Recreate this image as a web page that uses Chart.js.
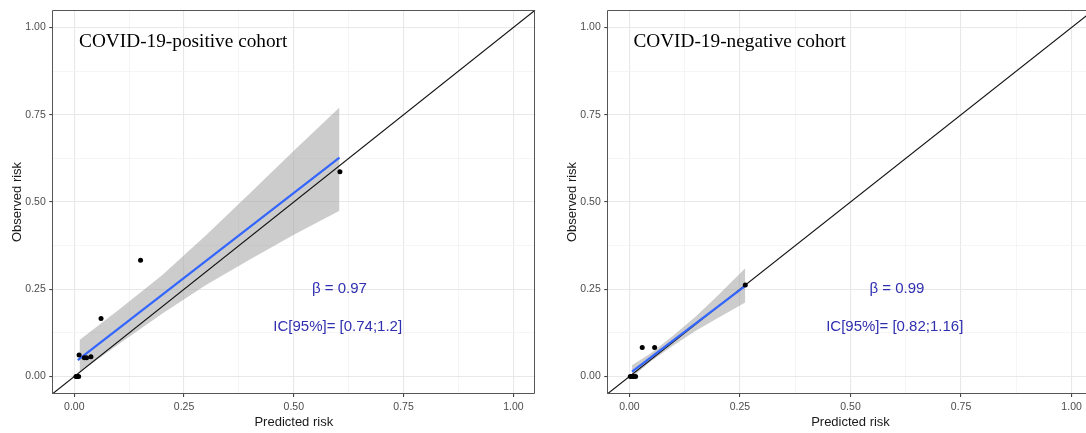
<!DOCTYPE html>
<html>
<head>
<meta charset="utf-8">
<script src="https://cdn.jsdelivr.net/npm/chart.js@4.4.1/dist/chart.umd.min.js"></script>
<style>
  html, body { margin: 0; padding: 0; background: #fff; overflow: hidden; }
  #wrap { position: relative; width: 1086px; height: 433px; overflow: hidden; }
  #left { position: absolute; left: 0; top: 0; }
  #right { position: absolute; left: 545px; top: 0; }
</style>
</head>
<body>
<div id="wrap">
  <canvas id="left" width="545" height="433"></canvas>
  <canvas id="right" width="560" height="433"></canvas>
</div>
<script>
// ticks shared by both panels
const tickValues = [0, 0.25, 0.5, 0.75, 1];
const diagonal = [-0.05, 1.05];

// COVID-19-positive cohort
const posPredicted = [0.004, 0.007, 0.010, 0.011, 0.023, 0.028, 0.038, 0.061, 0.151, 0.605];
const posObserved  = [0, 0, 0, 0.062, 0.054, 0.054, 0.057, 0.166, 0.333, 0.587];
const posFitX = [0.008, 0.604];
const posFitY = [0.047, 0.627];
const posBandX    = [0.012, 0.1, 0.2, 0.3, 0.4, 0.5, 0.604];
const posBandLow  = [0.012, 0.092, 0.180, 0.262, 0.335, 0.406, 0.475];
const posBandHigh = [0.105, 0.190, 0.290, 0.405, 0.525, 0.647, 0.771];

// COVID-19-negative cohort
const negPredicted = [0.002, 0.006, 0.010, 0.014, 0.029, 0.057, 0.262];
const negObserved  = [0, 0, 0, 0, 0.083, 0.083, 0.262];
const negFitX = [0.006, 0.262];
const negFitY = [0.014, 0.260];
const negBandX    = [0.006, 0.05, 0.1, 0.15, 0.2, 0.262];
const negBandLow  = [-0.002, 0.045, 0.090, 0.131, 0.168, 0.212];
const negBandHigh = [0.032, 0.068, 0.118, 0.172, 0.232, 0.310];

function pts(xs, ys) {
  return xs.map((x, i) => ({ x: x, y: ys[i] }));
}

function isMajor(v) {
  return tickValues.some(t => Math.abs(t - v) < 1e-9);
}

const panelDecor = {
  id: 'panelDecor',
  afterDraw(chart, args, o) {
    const c = chart.ctx, a = chart.chartArea;
    const sx = chart.scales.x, sy = chart.scales.y;
    c.save();
    // panel border (left, top, bottom always; right only when it's inside the picture)
    c.strokeStyle = '#555';
    c.lineWidth = 1;
    c.beginPath();
    c.moveTo(Math.round(a.right) - 0.5, Math.round(a.top) + 0.5);
    c.lineTo(Math.round(a.left) + 0.5, Math.round(a.top) + 0.5);
    c.lineTo(Math.round(a.left) + 0.5, Math.round(a.bottom) - 0.5);
    c.lineTo(Math.round(a.right) - 0.5, Math.round(a.bottom) - 0.5);
    if (o.rightBorder) c.closePath();
    c.stroke();

    c.fillStyle = '#000';
    c.font = '19.3px "Liberation Serif", "Times New Roman", serif';
    c.textAlign = 'left';
    c.textBaseline = 'alphabetic';
    c.fillText(o.title, sx.getPixelForValue(o.titleAt[0]), sy.getPixelForValue(o.titleAt[1]));

    c.fillStyle = '#2f2fb0';
    c.font = '15px "Liberation Sans", Arial, sans-serif';
    c.textAlign = 'center';
    c.textBaseline = 'middle';
    c.fillText(o.beta, sx.getPixelForValue(o.betaAt[0]), sy.getPixelForValue(o.betaAt[1]));
    c.fillText(o.ci, sx.getPixelForValue(o.ciAt[0]), sy.getPixelForValue(o.ciAt[1]));
    c.restore();
  }
};

function axis(title, extra) {
  return Object.assign({
    type: 'linear',
    min: -0.05,
    max: 1.05,
    ticks: {
      stepSize: 0.125,
      includeBounds: false,
      autoSkip: false,
      maxRotation: 0,
      color: '#4d4d4d',
      font: { family: 'Liberation Sans', size: 10.5 },
      callback: v => isMajor(v) ? v.toFixed(2) : ''
    },
    grid: {
      color: ctx => isMajor(ctx.tick.value) ? '#e8e8e8' : '#f3f3f3',
      lineWidth: ctx => isMajor(ctx.tick.value) ? 1.1 : 0.8,
      tickColor: ctx => isMajor(ctx.tick.value) ? '#444' : 'rgba(0,0,0,0)',
      tickLength: 3
    },
    border: { display: false },
    title: {
      display: true,
      text: title,
      color: '#1a1a1a',
      font: { family: 'Liberation Sans', size: 13 }
    }
  }, extra);
}

function makePanel(id, p) {
  const ctx = document.getElementById(id).getContext('2d');
  const x = axis('Predicted risk', { afterFit: s => { s.height = 39; } });
  x.ticks.padding = 4;
  x.title.padding = { top: 0, bottom: 2.5 };
  const y = axis('Observed risk', { afterFit: s => { s.width = p.yWidth; } });
  y.ticks.padding = 3.5;
  y.title.padding = { top: p.yTitlePad, bottom: 0 };

  return new Chart(ctx, {
    type: 'line',
    data: {
      datasets: [
        { data: pts(p.predicted, p.observed), showLine: false, pointRadius: 2.5,
          pointBackgroundColor: '#000', pointBorderColor: '#000', pointBorderWidth: 0, order: 0 },
        { data: pts(p.fitX, p.fitY), borderColor: '#3366ff', borderWidth: 2.2, pointRadius: 0, order: 1 },
        { data: pts(diagonal, diagonal), borderColor: '#111', borderWidth: 1.1, pointRadius: 0, order: 2 },
        { data: pts(p.bandX, p.bandHigh), borderColor: 'transparent', borderWidth: 0, pointRadius: 0,
          fill: '+1', backgroundColor: 'rgba(153,153,153,0.5)', order: 3 },
        { data: pts(p.bandX, p.bandLow), borderColor: 'transparent', borderWidth: 0, pointRadius: 0,
          fill: false, order: 4 }
      ]
    },
    options: {
      responsive: false,
      animation: false,
      devicePixelRatio: 1,
      layout: { padding: { top: 10, right: p.padRight, left: 0, bottom: 0 } },
      plugins: {
        legend: { display: false },
        tooltip: { enabled: false },
        panelDecor: p.decor
      },
      scales: { x: x, y: y }
    },
    plugins: [panelDecor]
  });
}

makePanel('left', {
  predicted: posPredicted, observed: posObserved,
  fitX: posFitX, fitY: posFitY,
  bandX: posBandX, bandLow: posBandLow, bandHigh: posBandHigh,
  yWidth: 52.3, yTitlePad: 9.6, padRight: 9.7,
  decor: {
    rightBorder: true,
    title: 'COVID-19-positive cohort', titleAt: [0.011, 0.944],
    beta: 'β = 0.97', betaAt: [0.604, 0.250],
    ci: 'IC[95%]= [0.74;1.2]', ciAt: [0.600, 0.143]
  }
});

// right panel runs past the picture's edge, as in the reference
makePanel('right', {
  predicted: negPredicted, observed: negObserved,
  fitX: negFitX, fitY: negFitY,
  bandX: negBandX, bandLow: negBandLow, bandHigh: negBandHigh,
  yWidth: 62.3, yTitlePad: 19.8, padRight: 11.3,
  decor: {
    rightBorder: false,
    title: 'COVID-19-negative cohort', titleAt: [0.009, 0.944],
    beta: 'β = 0.99', betaAt: [0.605, 0.250],
    ci: 'IC[95%]= [0.82;1.16]', ciAt: [0.600, 0.143]
  }
});
</script>
</body>
</html>
